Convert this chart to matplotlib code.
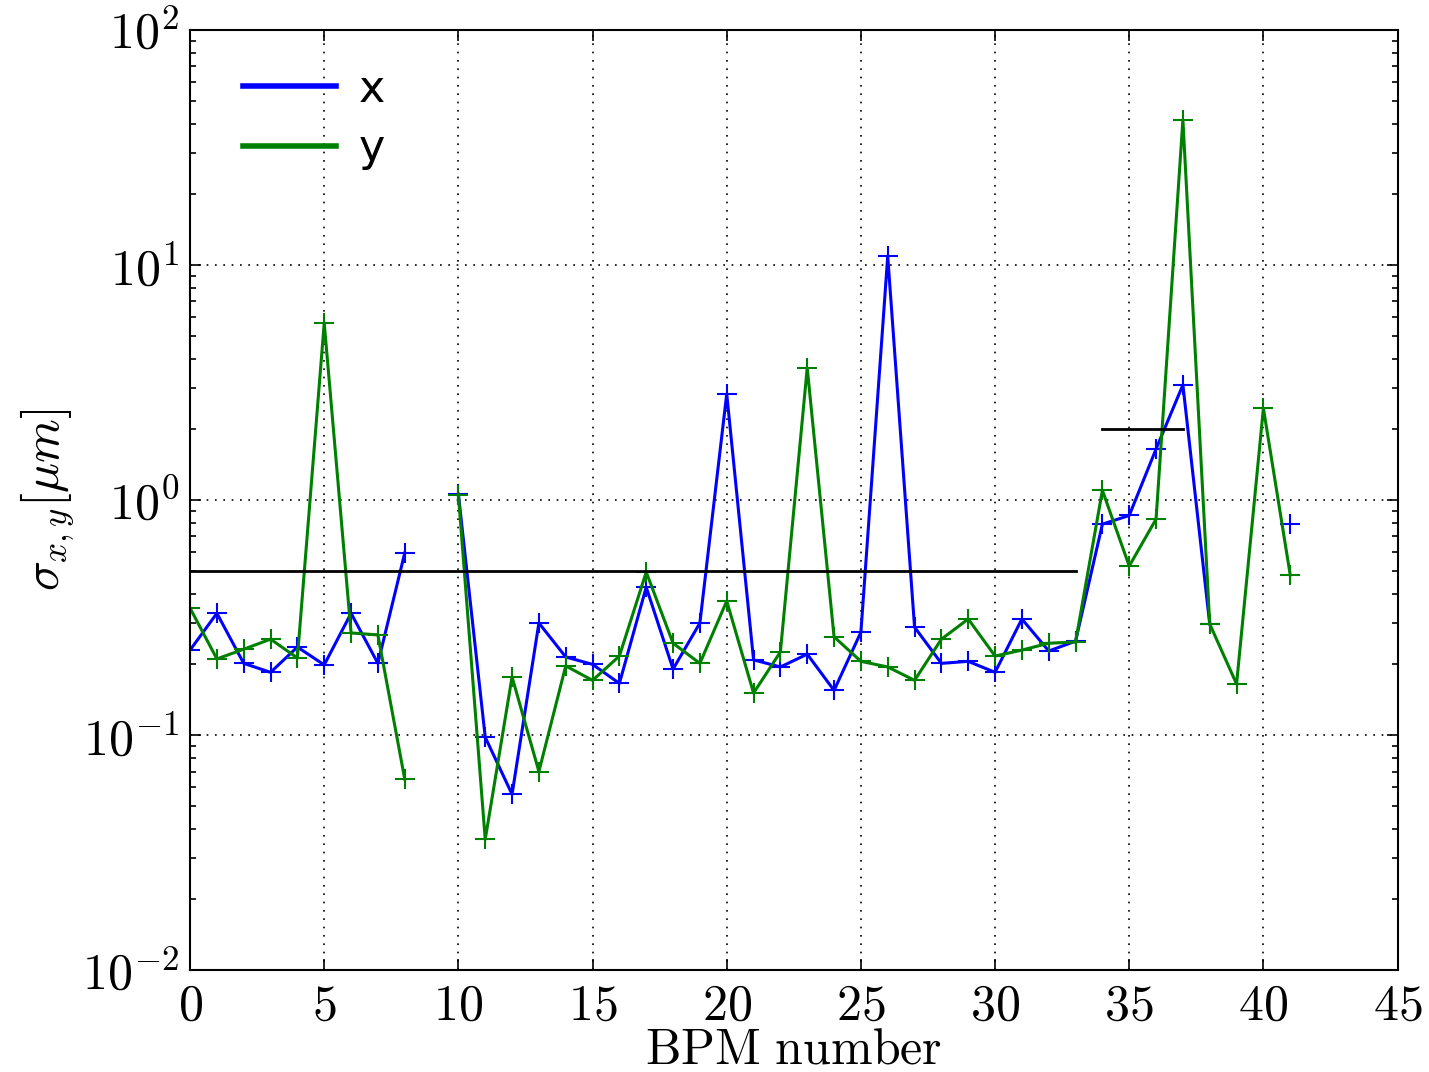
import numpy as np
import matplotlib
matplotlib.use("Agg")
import matplotlib.pyplot as plt
from matplotlib.ticker import FuncFormatter, LogLocator

nan = np.nan
bpm = np.arange(42)
sigma_x = [0.230, 0.330, 0.202, 0.185, 0.237, 0.199, 0.330, 0.202, 0.595, nan,
           1.06, 0.098, 0.056, 0.300, 0.215, 0.200, 0.166, 0.426, 0.191, 0.300,
           2.83, 0.209, 0.195, 0.221, 0.155, 0.274, 10.9, 0.288, 0.202, 0.206,
           0.185, 0.312, 0.228, 0.251, 0.79, 0.86, 1.65, 3.09, 0.297, nan,
           nan, 0.79]
sigma_y = [0.347, 0.211, 0.232, 0.256, 0.213, 5.67, 0.272, 0.267, 0.065, nan,
           1.05, 0.036, 0.177, 0.070, 0.197, 0.171, 0.217, 0.494, 0.246, 0.202,
           0.372, 0.151, 0.226, 3.65, 0.262, 0.206, 0.195, 0.171, 0.256, 0.312,
           0.217, 0.230, 0.246, 0.249, 1.10, 0.524, 0.83, 41.4, 0.297, 0.165,
           2.46, 0.48]
# tolerance levels
tol_low = 0.5
tol_low_range = (0, 33)
tol_high = 2.0
tol_high_range = (34, 37)

plt.rcParams['mathtext.fontset'] = 'cm'

fig = plt.figure(figsize=(14.29, 10.72), dpi=100)
ax = fig.add_axes([0.133, 0.095, 0.845, 0.877])

ax.plot(bpm, sigma_x, color='#0000ff', lw=2.2, marker='+', ms=14, mew=1.5, label='x')
ax.plot(bpm, sigma_y, color='#008000', lw=2.2, marker='+', ms=14, mew=1.5, label='y')
ax.plot(tol_low_range, [tol_low, tol_low], color='k', lw=2)
ax.plot(tol_high_range, [tol_high, tol_high], color='k', lw=2)

ax.set_yscale('log')
ax.set_ylim(1e-2, 1e2)
ax.set_xlim(0, 45)
ax.set_xticks(np.arange(0, 46, 5))
ax.xaxis.set_major_formatter(FuncFormatter(lambda v, p: r'$%d$' % v))
ax.yaxis.set_major_locator(LogLocator(base=10))
ax.yaxis.set_major_formatter(FuncFormatter(lambda v, p: r'$10^{%d}$' % round(np.log10(v))))
ax.grid(True, which='major', color='k', linestyle=(0, (1, 4)), lw=1.2)

ax.tick_params(which='both', direction='in', top=True, right=True, labelsize=36, width=1.2)
ax.tick_params(which='major', length=8, pad=8)
ax.tick_params(which='minor', length=4)
for s in ax.spines.values():
    s.set_linewidth(1.5)

ax.set_xlabel(r'$\mathrm{BPM\ number}$', fontsize=36, labelpad=-3)
ax.set_ylabel(r'$\sigma_{x,y}[\mu m]$', fontsize=36, labelpad=4)

ax.legend(loc='upper left', bbox_to_anchor=(0.0125, 1.0), frameon=False, fontsize=32,
          handlelength=2.1, handletextpad=0.5, borderaxespad=0.45, labelspacing=0.37)
for ln in ax.get_legend().get_lines():
    ln.set_marker('')
    ln.set_linewidth(4)

fig.savefig('out.png', dpi=100)
